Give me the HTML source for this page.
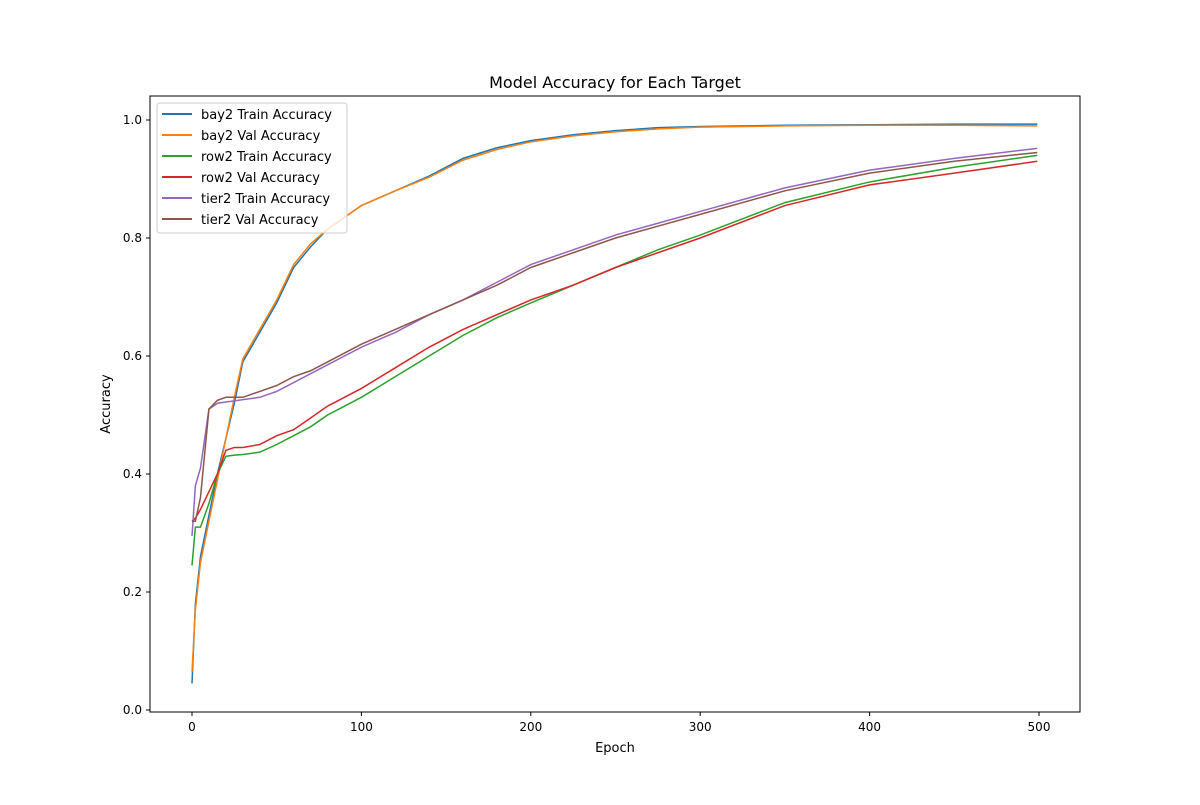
<!DOCTYPE html>
<html><head><meta charset="utf-8"><style>
body{margin:0;background:#fff;}
svg text{font-family:"DejaVu Sans","Liberation Sans",sans-serif;}
</style></head><body>
<svg id="chart" width="1200" height="800" xmlns="http://www.w3.org/2000/svg">
<rect width="1200" height="800" fill="#fff"/>
<g id="plot"></g>
<rect x="150" y="96" width="930" height="616" fill="none" stroke="#000" stroke-width="1"/>
<text x="615" y="88" font-size="16" text-anchor="middle">Model Accuracy for Each Target</text>
<text x="615" y="752" font-size="13" text-anchor="middle">Epoch</text>
<text x="110" y="404" font-size="13" text-anchor="middle" transform="rotate(-90 110 404)">Accuracy</text>
<g id="axes"></g>
<g id="legend"></g>
</svg>
<script>
const epochs = [0,2,5,10,15,20,25,30,40,50,60,70,80,90,100,120,140,160,180,200,225,250,275,300,350,400,450,499];
const bayTrain = [0.045,0.18,0.26,0.33,0.40,0.46,0.52,0.59,0.64,0.69,0.75,0.785,0.815,0.835,0.855,0.88,0.905,0.935,0.953,0.965,0.975,0.982,0.987,0.989,0.991,0.992,0.993,0.993];
const bayVal = [0.065,0.17,0.25,0.32,0.39,0.46,0.53,0.595,0.645,0.695,0.755,0.79,0.815,0.835,0.855,0.88,0.903,0.932,0.95,0.963,0.973,0.98,0.985,0.988,0.99,0.991,0.991,0.990];
const rowTrain = [0.245,0.31,0.31,0.35,0.40,0.43,0.432,0.433,0.437,0.45,0.465,0.48,0.50,0.515,0.53,0.565,0.60,0.635,0.665,0.69,0.72,0.75,0.78,0.805,0.86,0.895,0.92,0.94];
const rowVal = [0.32,0.325,0.34,0.37,0.40,0.44,0.445,0.445,0.45,0.465,0.475,0.495,0.515,0.53,0.545,0.58,0.615,0.645,0.67,0.695,0.72,0.75,0.775,0.80,0.855,0.89,0.91,0.93];
const tierTrain = [0.295,0.38,0.41,0.51,0.52,0.522,0.524,0.526,0.53,0.54,0.555,0.57,0.585,0.60,0.615,0.64,0.67,0.695,0.725,0.755,0.78,0.805,0.825,0.845,0.885,0.915,0.935,0.952];
const tierVal = [0.32,0.32,0.36,0.51,0.525,0.53,0.53,0.53,0.54,0.55,0.565,0.575,0.59,0.605,0.62,0.645,0.67,0.695,0.72,0.75,0.775,0.80,0.82,0.84,0.88,0.91,0.93,0.945];
const xTicks = [0,100,200,300,400,500];
const yTicks = [0.0,0.2,0.4,0.6,0.8,1.0];
const seriesNames = ["bay2 Train Accuracy","bay2 Val Accuracy","row2 Train Accuracy","row2 Val Accuracy","tier2 Train Accuracy","tier2 Val Accuracy"];
const colors = ["#1f77b4","#ff7f0e","#2ca02c","#d62728","#9467bd","#8c564b"];
const seriesData = [bayTrain,bayVal,rowTrain,rowVal,tierTrain,tierVal];

const NS="http://www.w3.org/2000/svg";
const xs = e => 192 + e*(1039-192)/500;
const ys = v => 710 - v*590;
const plot=document.getElementById('plot'), axes=document.getElementById('axes'), leg=document.getElementById('legend');
function mk(tag,attrs,parent){const el=document.createElementNS(NS,tag);for(const k in attrs)el.setAttribute(k,attrs[k]);parent.appendChild(el);return el;}

seriesData.forEach((d,i)=>{
  const p=mk('polyline',{points:d.map((v,j)=>xs(epochs[j])+','+ys(v)).join(' '),fill:'none',stroke:colors[i],'stroke-width':1.5},plot);
  
  
});
xTicks.forEach(t=>{
  const l=mk('line',{x1:xs(t),x2:xs(t),y1:712,y2:716,stroke:'#000'},axes);
  
  
  const tx=mk('text',{x:xs(t),y:731,'font-size':12,'text-anchor':'middle'},axes);
  tx.textContent=t;
  
  
});
yTicks.forEach(t=>{
  const l=mk('line',{x1:146,x2:150,y1:ys(t),y2:ys(t),stroke:'#000'},axes);
  
  
  const tx=mk('text',{x:142,y:ys(t)+4,'font-size':12,'text-anchor':'end'},axes);
  tx.textContent=t.toFixed(1);
  
  
});
const box=mk('rect',{x:157,y:103,width:190,height:130,rx:3,fill:'#fff','fill-opacity':0.8,stroke:'#ccc'},leg);


seriesNames.forEach((n,i)=>{
  const y=114+i*21;
  const l=mk('line',{x1:162,x2:192,y1:y,y2:y,stroke:colors[i],'stroke-width':2},leg);
  
  
  const tx=mk('text',{x:201,y:y+5,'font-size':13},leg);
  tx.textContent=n;
  
  
});
</script>
</body></html>
